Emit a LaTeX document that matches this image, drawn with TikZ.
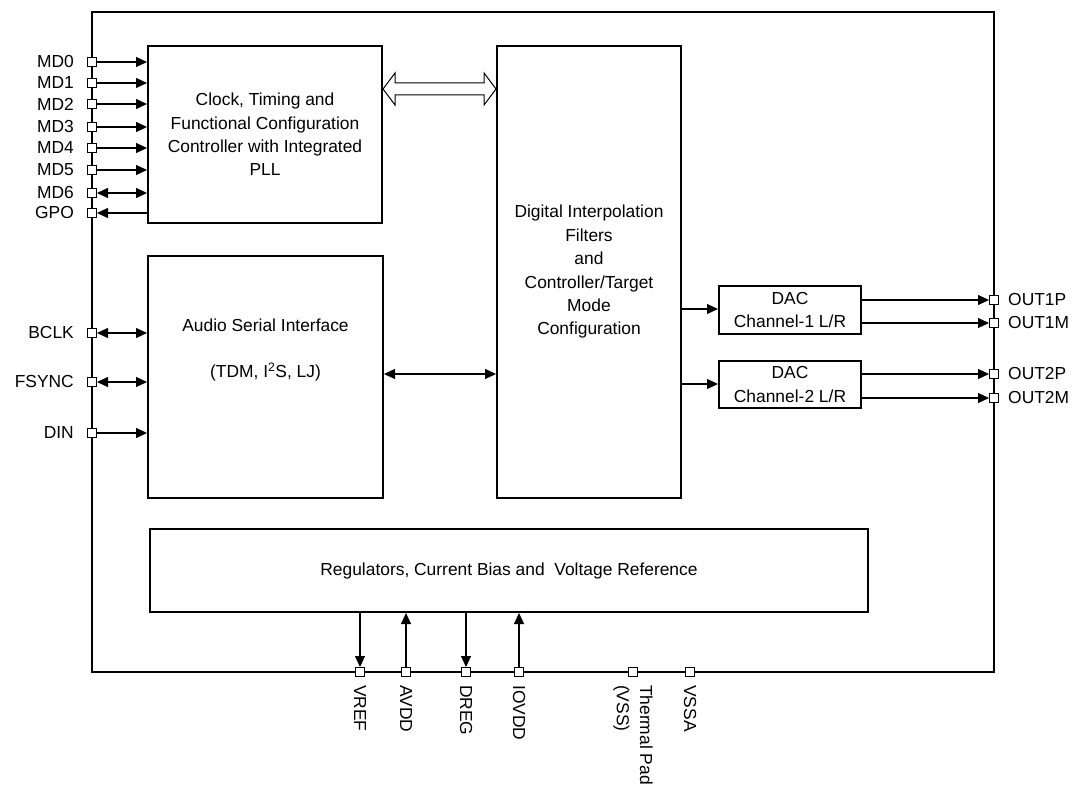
\documentclass[tikz,border=0pt]{standalone}
\usepackage{fontspec}
\setmainfont{Liberation Sans}
\usetikzlibrary{arrows.meta,calc}
\begin{document}
\begin{tikzpicture}[x=1pt,y=-1pt,
  every node/.style={font=\fontsize{17.4}{23.4}\selectfont, inner sep=0pt},
  chip/.style={draw, line width=2.5pt},
  blk/.style={draw, line width=2pt, align=center},
  pin/.style={draw, fill=white, minimum size=9pt, line width=1pt},
  arr/.style={line width=1.1pt, -{Triangle[length=11pt,width=10pt]}},
  darr/.style={line width=1.1pt, {Triangle[length=11pt,width=10pt]}-{Triangle[length=11pt,width=10pt]}},
  rarr/.style={line width=1.1pt, {Triangle[length=11pt,width=10pt]}-},
  lbl/.style={anchor=east},
  rlbl/.style={anchor=west},
  blbl/.style={anchor=west, rotate=-90, align=left}
]
\useasboundingbox (0,0) rectangle (1081,791);
% chip outline
\draw[chip] (92,12) rectangle (994,672);
% blocks
\node[blk, minimum width=234pt, minimum height=177pt] (clk) at (265,134.5) {Clock, Timing and\\Functional Configuration\\Controller with Integrated\\PLL};
\node[blk, minimum width=184pt, minimum height=452pt] (dig) at (589,272) {Digital Interpolation\\Filters\\and\\Controller/Target\\Mode\\Configuration};
\node[blk, minimum width=235pt, minimum height=242pt] (asi) at (265.5,377) {};
\node (asitxt) at (265.5,350) [align=center] {Audio Serial Interface\\[23.4pt](TDM, I\textsuperscript{2}S, LJ)};
\node[blk, minimum width=718pt, minimum height=83pt] (reg) at (509,570.5) {Regulators, Current Bias and\ \ Voltage Reference};
\node[blk, minimum width=142pt, minimum height=48pt] (dac1) at (790,310) {DAC\\Channel-1 L/R};
\node[blk, minimum width=142pt, minimum height=47pt] (dac2) at (790,384.5) {DAC\\Channel-2 L/R};
% left pins
\foreach \n/\y/\t in {md0/62/MD0, md1/83/MD1, md2/104/MD2, md3/127/MD3, md4/148/MD4, md5/170/MD5, md6/193/MD6, gpo/213/GPO, bclk/333/BCLK, fsync/382/FSYNC, din/433/DIN}{
  \node[pin] (\n) at (92,\y) {};
  \node[lbl] (\n l) at (74,\y) {\t};
}
% right pins
\foreach \n/\y/\t in {o1p/300/OUT1P, o1m/323/OUT1M, o2p/374/OUT2P, o2m/398/OUT2M}{
  \node[pin] (\n) at (994,\y) {};
  \node[rlbl] (\n l) at (1008,\y) {\t};
}
% bottom pins
\foreach \n/\x/\t in {vref/360/VREF, avdd/406/AVDD, dreg/466/DREG, iovdd/519/IOVDD, tpad/633/{Thermal Pad\\(VSS)}, vssa/690/VSSA}{
  \node[pin] (\n) at (\x,672) {};
  \node[blbl] (\n l) at (\x,685) {\t};
}
% left connectors
\foreach \n in {md0,md1,md2,md3,md4,md5,din}{
  \draw[arr] (\n.east) -- (\n -| clk.west);
}
\foreach \n in {md6,bclk,fsync}{
  \draw[darr] (\n.east) -- (\n -| clk.west);
}
\draw[rarr] (gpo.east) -- (gpo -| clk.west);
% right connectors
\draw[arr] (dac1.east |- o1p) -- (o1p.west);
\draw[arr] (dac1.east |- o1m) -- (o1m.west);
\draw[arr] (dac2.east |- o2p) -- (o2p.west);
\draw[arr] (dac2.east |- o2m) -- (o2m.west);
% digital to DAC
\coordinate (d1) at (0,309);
\coordinate (d2) at (0,384);
\draw[arr] (dig.east |- d1) -- (dac1.west |- d1);
\draw[arr] (dig.east |- d2) -- (dac2.west |- d2);
% audio <-> digital
\coordinate (ad) at (0,374);
\draw[darr] (asi.east |- ad) -- (dig.west |- ad);
% bottom connectors
\draw[arr] (vref |- reg.south) -- (vref.north);
\draw[rarr] (avdd |- reg.south) -- (avdd.north);
\draw[arr] (dreg |- reg.south) -- (dreg.north);
\draw[rarr] (iovdd |- reg.south) -- (iovdd.north);
% double block arrow between clock and digital
\coordinate (bl) at (clk.east |- 0,89);
\coordinate (br) at (dig.west |- 0,89);
\draw[line width=1pt, fill=white]
  (bl) -- ($(bl)+(12,-16)$) -- ($(bl)+(12,-6)$) -- ($(br)+(-12,-6)$) -- ($(br)+(-12,-16)$) -- (br)
  -- ($(br)+(-12,16)$) -- ($(br)+(-12,6)$) -- ($(bl)+(12,6)$) -- ($(bl)+(12,16)$) -- cycle;
\end{tikzpicture}
\end{document}
